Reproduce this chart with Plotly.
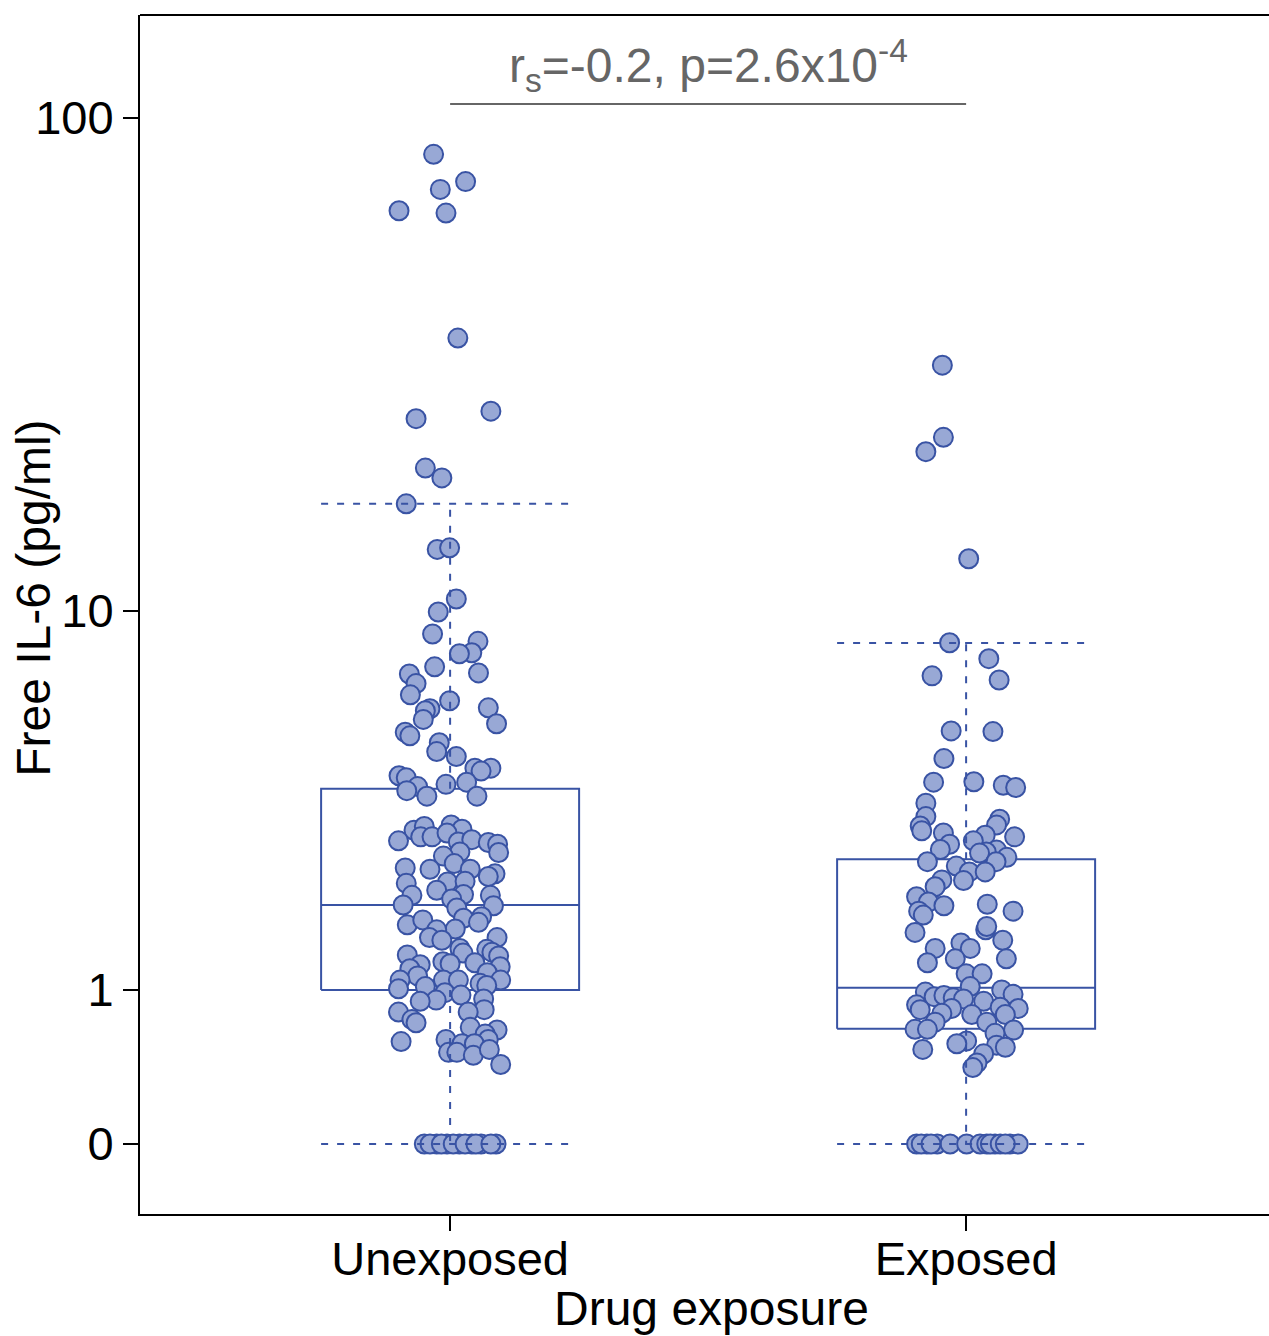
import numpy as np
import plotly.graph_objects as go

categories = ["Unexposed", "Exposed"]

# Free IL-6 values (pg/ml), with their horizontal jitter (category units)
unexposed_values = [
    84.7, 74.8, 72.2, 65.5, 64.8, 36.5, 26.0, 25.1, 19.9, 19.0, 16.8,
    13.5, 13.6, 10.6, 9.94, 8.91, 8.59, 8.11, 8.07, 7.55, 7.32, 7.28, 6.93, 6.54,
    6.34, 6.11, 6.08, 6.02, 5.75, 5.62, 5.37, 5.27, 5.08, 4.84, 4.71, 4.42, 4.42,
    4.35, 4.24, 4.19, 4.04, 4.09, 3.99, 3.90, 3.78, 3.78,
    3.10, 3.17, 3.20, 3.12, 2.91, 2.98, 2.98, 3.05, 2.89, 2.93, 2.88, 2.85, 2.71,
    2.72, 2.65, 2.53, 2.46, 2.44, 2.44, 2.37, 2.33, 2.23, 2.25, 2.26, 2.13, 2.06,
    2.07, 2.06, 2.01, 1.93, 1.92, 1.89, 1.78, 1.76, 1.71, 1.68, 1.74, 1.63, 1.62,
    1.53, 1.50, 1.53, 1.41, 1.40, 1.37, 1.36, 1.34, 1.33, 1.27, 1.26, 1.24, 1.25,
    1.20, 1.22, 1.16, 1.13, 1.09, 1.09, 1.09, 1.09, 1.06, 1.01, 1.04, 1.03, 0.975,
    0.954, 0.91, 0.90, 0.92, 0.83, 0.81, 0.81, 0.75, 0.725, 0.69, 0.67, 0.64, 0.60,
    0.585, 0.60, 0.57, 0.57, 0.51, 0.51, 0.49, 0.53, 0.43,
    0, 0, 0, 0, 0, 0, 0, 0, 0, 0, 0, 0, 0,
]
unexposed_jitter = [
    -0.032, 0.030, -0.019, -0.099, -0.008, 0.015, 0.079, -0.066, -0.048, -0.016, -0.085,
    -0.025, -0.001, 0.012, -0.023, -0.034, 0.054, 0.042, 0.018, -0.030, 0.055, -0.079, -0.066, -0.077,
    -0.001, 0.074, -0.039, -0.048, -0.052, 0.090, -0.087, -0.078, -0.021, -0.026, 0.012, 0.079, 0.048,
    0.060, -0.099, -0.085, -0.008, 0.032, -0.063, -0.084, -0.045, 0.052,
    -0.070, -0.050, 0.002, 0.023, -0.100, -0.057, -0.035, -0.006, 0.016, 0.042, 0.074, 0.092, 0.094,
    0.019, -0.013, 0.008, -0.087, -0.039, 0.039, 0.087, 0.074, -0.085, -0.005, 0.029, -0.026, -0.074,
    0.026, 0.078, 0.003, -0.091, 0.084, 0.013, 0.061, 0.026, 0.055, -0.083, -0.053, 0.010, -0.026,
    -0.040, -0.016, 0.091, 0.019, 0.071, 0.081, 0.025, -0.083, 0.094, -0.014, 0.048, -0.058, 0.000,
    -0.078, 0.097, 0.072, -0.063, -0.013, 0.016, 0.098, -0.097, 0.058, -0.100, 0.071, -0.048, -0.010,
    0.021, -0.027, -0.058, 0.065, 0.066, 0.035, -0.100, -0.074, -0.066, 0.039, 0.091, 0.068, -0.008,
    -0.095, 0.074, 0.023, 0.047, -0.003, 0.013, 0.045, 0.076, 0.098,
    -0.050, -0.026, -0.006, 0.018, 0.042, 0.060, 0.089, -0.039, -0.017, 0.006, 0.029, 0.050, 0.079,
]

exposed_values = [
    32.2, 23.0, 21.5, 12.9, 8.53, 7.87, 7.21, 7.06, 5.41, 5.39, 4.66, 4.09, 4.10,
    4.02, 3.97, 3.63, 3.36, 3.18, 3.09, 3.31, 3.20, 3.05, 3.01, 2.98, 2.91, 2.85,
    2.76, 2.75, 2.72, 2.70, 2.63, 2.56, 2.56, 2.49, 2.40, 2.40, 2.27, 2.28, 2.18,
    2.04, 1.97, 1.92, 1.94, 1.85, 1.85, 1.80, 1.62, 1.66, 1.59, 1.50, 1.47, 1.41,
    1.41, 1.30, 1.30, 1.26, 1.15, 1.15, 1.03, 0.98, 1.00, 0.94, 0.95, 0.93, 0.92,
    0.90, 0.96, 0.87, 0.84, 0.85, 0.83, 0.84, 0.80, 0.79, 0.79, 0.73, 0.73, 0.675,
    0.675, 0.67, 0.645, 0.59, 0.57, 0.56, 0.545, 0.53, 0.50, 0.44, 0.41,
    0, 0, 0, 0, 0, 0, 0, 0, 0, 0, 0, 0, 0, 0, 0,
]
exposed_jitter = [
    -0.046, -0.044, -0.078, 0.005, -0.032, 0.044, -0.066, 0.064, -0.029, 0.052, -0.043, -0.063, 0.015,
    0.072, 0.096, -0.078, -0.078, -0.089, -0.086, 0.065, 0.059, -0.044, 0.037, 0.094, 0.014, -0.032,
    -0.050, 0.059, 0.039, 0.026, 0.079, -0.075, 0.058, -0.019, 0.006, 0.037, -0.005, -0.047, -0.060,
    -0.096, -0.073, -0.043, 0.041, 0.091, -0.092, -0.083, 0.038, 0.040, -0.099, 0.071, -0.010, -0.060,
    0.008, -0.021, 0.078, -0.075, 0.000, 0.031, 0.008, -0.079, 0.069, -0.062, -0.043, -0.025, -0.005,
    0.034, 0.091, -0.096, 0.101, 0.066, -0.089, -0.028, -0.047, 0.011, 0.076, -0.060, 0.040, -0.099,
    -0.075, 0.092, 0.056, 0.001, -0.018, 0.059, 0.076, -0.084, 0.034, 0.021, 0.013,
    -0.096, -0.076, -0.056, -0.031, 0.001, 0.027, 0.040, 0.056, 0.085, 0.101, -0.087, -0.068, 0.047, 0.066, 0.076,
]

# Box statistics (pg/ml): lower whisker, Q1, median, Q3, upper whisker
lower_whisker = [0.0, 0.0]
q1 = [1.0, 0.68]
median = [1.93, 1.02]
q3 = [3.94, 2.60]
upper_whisker = [16.8, 8.52]

tick_values = [0, 1, 10, 100]
tick_labels = ["0", "1", "10", "100"]

stat_text = "r<sub>s</sub>=-0.2, p=2.6x10<sup>-4</sup>"


def tr(v):
    return np.log10(np.asarray(v, dtype=float) + 1.0)


BLUE = "#3953A4"
FILL = "#98A8D5"
FONT = "Liberation Sans, Arial, sans-serif"
HALF = 0.25
CAP_R = 0.235
DASH = "7px,9px"

fig = go.Figure()

# boxes (under the points)
for i, c in enumerate(categories):
    fig.add_trace(go.Scatter(
        x=[i - HALF, i + HALF, i + HALF, i - HALF, i - HALF],
        y=tr([q1[i], q1[i], q3[i], q3[i], q1[i]]),
        mode="lines", line=dict(color=BLUE, width=2), showlegend=False, hoverinfo="skip"))
    fig.add_trace(go.Scatter(
        x=[i - HALF, i + HALF], y=tr([median[i], median[i]]),
        mode="lines", line=dict(color=BLUE, width=2), showlegend=False, hoverinfo="skip"))

# points
for i, (vals, jit) in enumerate([(unexposed_values, unexposed_jitter), (exposed_values, exposed_jitter)]):
    fig.add_trace(go.Scatter(
        x=i + np.asarray(jit), y=tr(vals), mode="markers",
        marker=dict(size=19, color=FILL, line=dict(color=BLUE, width=2)),
        showlegend=False, name=categories[i]))

# whiskers (dashed, above the points)
for i, c in enumerate(categories):
    for a, b in [(q3[i], upper_whisker[i]), (q1[i], lower_whisker[i])]:
        fig.add_trace(go.Scatter(
            x=[i, i], y=tr([a, b]), mode="lines",
            line=dict(color=BLUE, width=2, dash=DASH), showlegend=False, hoverinfo="skip"))
    for w in [upper_whisker[i], lower_whisker[i]]:
        fig.add_trace(go.Scatter(
            x=[i - HALF, i + CAP_R], y=tr([w, w]), mode="lines",
            line=dict(color=BLUE, width=2, dash=DASH), showlegend=False, hoverinfo="skip"))

fig.update_layout(
    width=1269, height=1336,
    margin=dict(l=140, r=0, t=15, b=122),
    plot_bgcolor="white", paper_bgcolor="white",
    font=dict(family=FONT, size=47, color="black"),
    xaxis=dict(
        range=[-0.601, 1.587], tickvals=[0, 1], ticktext=categories,
        showline=True, linecolor="black", linewidth=2,
        ticks="outside", ticklen=15, tickwidth=2, tickcolor="black",
        showgrid=False, zeroline=False, tickfont=dict(size=47),
        ticklabelstandoff=-12,
    ),
    yaxis=dict(
        range=[-0.1367, 2.2051], tickvals=list(tr(tick_values)), ticktext=tick_labels,
        showline=True, linecolor="black", linewidth=2,
        ticks="outside", ticklen=15, tickwidth=2, tickcolor="black",
        showgrid=False, zeroline=False, tickfont=dict(size=47),
    ),
    shapes=[
        dict(type="line", xref="paper", yref="paper", x0=0, x1=1, y0=1, y1=1,
             line=dict(color="black", width=2)),
        dict(type="line", xref="x", yref="paper", x0=0, x1=1, y0=0.9258, y1=0.9258,
             line=dict(color="#666666", width=2)),
    ],
    annotations=[
        dict(text=stat_text, xref="x", yref="paper", x=0.5, y=0.9575,
             xanchor="center", yanchor="middle", showarrow=False,
             font=dict(family=FONT, size=48, color="#666666")),
        dict(text="Free IL-6 (pg/ml)", xref="paper", yref="paper", x=-0.094, y=0.5138,
             xanchor="center", yanchor="middle", textangle=-90, showarrow=False,
             font=dict(family=FONT, size=48, color="black")),
        dict(text="Drug exposure", xref="paper", yref="paper", x=0.5058, y=-0.0784,
             xanchor="center", yanchor="middle", showarrow=False,
             font=dict(family=FONT, size=48, color="black")),
    ],
)

fig.write_html("out.html")
